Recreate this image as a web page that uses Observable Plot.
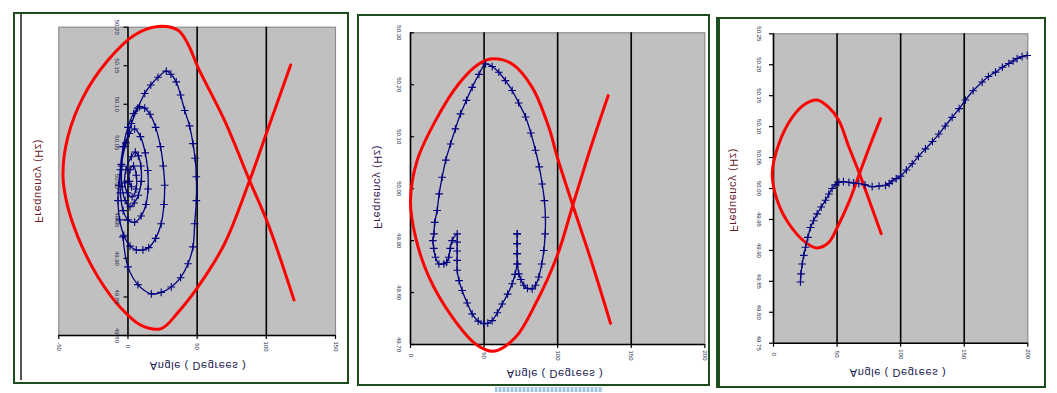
<!DOCTYPE html>
<html><head><meta charset="utf-8">
<script src="https://cdn.jsdelivr.net/npm/d3@7"></script>
<script src="https://cdn.jsdelivr.net/npm/@observablehq/plot@0.6"></script>
<style>
html,body{margin:0;padding:0;background:#fff}
body{width:1057px;height:393px;position:relative;overflow:hidden;font-family:"Liberation Sans",Arial,sans-serif}
.panel{position:absolute;border:2px solid #1d4d1d;box-sizing:border-box}
.lab{position:absolute;font-size:11px;white-space:nowrap;letter-spacing:0.6px;line-height:1}
</style></head><body>
<div class="panel" style="left:13px;top:12px;width:336px;height:372px"></div>
<div style="position:absolute;left:20px;top:14px;width:1.5px;height:366px;background:#555"></div>
<div class="panel" style="left:357px;top:14px;width:353px;height:372px"></div>
<div style="position:absolute;left:495px;top:387px;width:108px;height:5px;background:repeating-linear-gradient(90deg,#9cc3e0 0 2px,#dbe9f5 2px 4px)"></div>
<div class="panel" style="left:716px;top:17px;width:330px;height:371px;border-left-width:4px"></div>
<script>
// ---------- DATA ----------
const xLabel = "Angle ( Degrees )";
const yLabel = "Frequency (Hz)";

// Panel 1
const p1XTicks = [-50, 0, 50, 100, 150];
const p1YTicks = [49.80, 49.85, 49.90, 49.95, 50.00, 50.05, 50.10, 50.15, 50.20];
const p1Red = [[117.6,50.151],[100,50.062],[87.9,50.001],[69.8,49.919],[50.6,49.863],[36.2,49.830],[24.1,49.809],[9.6,49.813],[-4.8,49.835],[-21.7,49.876],[-36.2,49.928],[-44.6,49.975],[-47.0,50.010],[-43.4,50.058],[-32.5,50.109],[-14.5,50.157],[4.8,50.190],[21.7,50.201],[36.2,50.196],[43.4,50.178],[50.6,50.148],[69.8,50.079],[87.9,50.001],[101.2,49.945],[120,49.846]];
const p1Blue = [[-3.6,49.928],[0,49.889],[7.2,49.866],[16.9,49.854],[24,49.856],[31.3,49.863],[38,49.875],[43.4,49.893],[47,49.915],[48.2,49.945],[49.4,49.975],[49.4,50.006],[48.5,50.03],[47.0,50.049],[44.5,50.072],[41.0,50.092],[38,50.112],[34.9,50.129],[31,50.139],[27.7,50.143],[21.7,50.135],[16.5,50.125],[12.1,50.114],[7,50.095],[2.5,50.075],[-1.5,50.05],[-4.8,50.022],[-6.8,49.995],[-7.2,49.975],[-6.0,49.95],[-3,49.93],[1.5,49.916],[6,49.911],[10.8,49.911],[15,49.914],[20,49.926],[24,49.945],[26,49.97],[26.5,49.995],[25.5,50.02],[23.5,50.045],[20,50.07],[16,50.087],[12.1,50.095],[8.4,50.097],[4,50.088],[0,50.07],[-3.5,50.045],[-5.5,50.015],[-5.5,49.985],[-3.5,49.962],[0,49.95],[4.8,49.947],[9.5,49.955],[13,49.97],[14.5,49.99],[14.3,50.014],[12.5,50.037],[9,50.058],[4.8,50.068],[1,50.062],[-2.5,50.045],[-4.5,50.02],[-4.3,49.993],[-2,49.975],[1.5,49.967],[4.5,49.972],[7.5,49.982],[9.6,50.0],[9.3,50.02],[7.5,50.033],[5.3,50.038],[2.5,50.032],[-1.5,50.015],[-2.4,49.998],[-0.5,49.985],[3,49.98],[5.8,49.99],[6,50.008],[4,50.02],[1.5,50.015],[1,50.0],[2.5,49.993]];

// Panel 2
const p2XTicks = [0, 50, 100, 150, 200];
const p2YTicks = [49.7, 49.8, 49.9, 50.0, 50.1, 50.2, 50.3];
const p2Red = [[134.3,50.179],[122,50.075],[110.3,49.968],[99.7,49.871],[84.9,49.778],[71.4,49.714],[56.6,49.687],[44.2,49.701],[28.3,49.753],[12.5,49.830],[3.4,49.907],[0,49.977],[4.5,50.054],[17.0,50.131],[32.8,50.202],[46.4,50.240],[55.5,50.250],[69.1,50.240],[82.7,50.195],[94.0,50.118],[99.7,50.061],[110.3,49.968],[123.5,49.855],[135.9,49.741]];
const p2Blue = [[72.5,49.913],[72.5,49.894],[72.5,49.875],[72.4,49.855],[71,49.835],[69.1,49.817],[66,49.797],[62.3,49.778],[59,49.761],[55.5,49.746],[52.5,49.741],[49.8,49.740],[46,49.745],[41.9,49.759],[38.5,49.78],[35.1,49.804],[33,49.823],[31.7,49.843],[31.7,49.862],[31.7,49.880],[31.7,49.897],[31.7,49.913],[28.3,49.900],[27,49.885],[26.0,49.868],[24.5,49.858],[22.7,49.855],[19.3,49.855],[17.0,49.868],[15.8,49.885],[15.2,49.900],[15.9,49.913],[16.5,49.935],[18.1,49.958],[19.5,49.99],[21.5,50.022],[24,50.055],[27.2,50.086],[30.5,50.115],[34.0,50.144],[38,50.17],[41.9,50.195],[46.5,50.22],[51.0,50.240],[55.5,50.235],[60.0,50.224],[64.5,50.208],[69.1,50.189],[73.5,50.165],[78.2,50.138],[81.8,50.107],[84.9,50.074],[87.5,50.042],[89.5,50.009],[91,49.977],[91.7,49.945],[91.5,49.913],[90.6,49.881],[89.2,49.855],[87.2,49.830],[85,49.814],[82.7,49.807],[79.5,49.808],[77.0,49.814],[75,49.825],[73.6,49.836],[72.8,49.855],[72.5,49.875],[72.5,49.894],[72.5,49.913]];

// Panel 3
const p3XTicks = [0, 50, 100, 150, 200];
const p3YTicks = [49.75, 49.80, 49.85, 49.90, 49.95, 50.00, 50.05, 50.10, 50.15, 50.20, 50.25];
const p3Red = [[84.2,50.113],[76.3,50.072],[67.6,50.024],[59.3,49.978],[50.1,49.937],[43.5,49.913],[34.3,49.904],[25.2,49.913],[12.1,49.943],[2.9,49.981],[-1.0,50.024],[4.2,50.072],[14.7,50.115],[25.2,50.137],[34.3,50.143],[43.5,50.131],[51.4,50.110],[59.3,50.067],[67.6,50.024],[76.3,49.975],[84.7,49.927]];
const p3Blue = [[21.2,49.849],[21.6,49.862],[22.6,49.878],[23.8,49.892],[25.2,49.905],[27,49.921],[29.1,49.937],[31.5,49.948],[34.3,49.959],[37.5,49.970],[40.9,49.981],[43.5,49.991],[46.1,50.000],[48.5,50.006],[51.4,50.010],[55,50.011],[59.3,50.010],[63,50.009],[67.1,50.008],[72,50.006],[77.6,50.003],[83,50.004],[88.1,50.005],[91,50.008],[93.3,50.012],[96.5,50.016],[99.9,50.020],[104.5,50.030],[109.1,50.040],[114,50.052],[119.5,50.064],[125,50.076],[130.0,50.088],[135,50.101],[140.5,50.115],[146,50.129],[151.0,50.143],[157,50.158],[164.1,50.172],[169,50.181],[174.6,50.188],[180,50.196],[185.1,50.202],[188.5,50.206],[191.6,50.210],[195.5,50.213],[199.5,50.215]];

// ---------- DRAWING ----------
function panel(cfg) {
  const {xTicks, yTicks, red, blue, axisX, left, top, width, height, m, tickSide, labDx, grid, fmt} = cfg;
  const xDom = [xTicks[0], xTicks[xTicks.length - 1]];
  const yDom = [yTicks[0], yTicks[yTicks.length - 1]];
  const kx = (xDom[1] - xDom[0]) / (width - m[3] - m[1]);
  const ky = (yDom[1] - yDom[0]) / (height - m[0] - m[2]);
  const svg = Plot.plot({
    width, height,
    marginTop: m[0], marginRight: m[1], marginBottom: m[2], marginLeft: m[3],
    x: {domain: xDom, axis: null},
    y: {domain: yDom, axis: null},
    style: {background: "transparent", overflow: "visible", fontFamily: "Liberation Sans, Arial, sans-serif"},
    marks: [
      Plot.frame({fill: "#c0c0c0", stroke: "#8c8c8c", strokeWidth: 1.2}),
      Plot.ruleX(grid, {stroke: "#000", strokeWidth: 1.6}),
      Plot.ruleX([axisX], {stroke: "#000", strokeWidth: 1.6}),
      Plot.ruleY([yDom[0]], {stroke: "#000", strokeWidth: 1.6}),
      Plot.ruleY(yTicks, {y: d => d, x1: axisX, x2: axisX + tickSide * 4 * kx, stroke: "#000", strokeWidth: 1.2}),
      Plot.ruleX(xTicks, {x: d => d, y1: yDom[0], y2: yDom[0] - 4 * ky, stroke: "#000", strokeWidth: 1.2}),
      Plot.line(red, {x: d => d[0], y: d => d[1], stroke: "#ff0000", strokeWidth: 3, curve: "catmull-rom"}),
      Plot.line(blue, {x: d => d[0], y: d => d[1], stroke: "#000080", strokeWidth: 1.3, curve: "catmull-rom"}),
      Plot.dot(blue, {x: d => d[0], y: d => d[1], symbol: "plus", r: 2.6, stroke: "#000080", strokeWidth: 1.1}),
      Plot.text(xTicks, {x: d => d, y: yDom[0], dy: 11, rotate: 90, text: d => String(d), fontSize: 6, fill: "#1c2a4a"}),
      Plot.text(yTicks, {x: axisX, y: d => d, dx: labDx, rotate: 90, text: d => d.toFixed(fmt), fontSize: 6, fill: "#1c2a4a"})
    ]
  });
  svg.style.position = "absolute";
  svg.style.left = left + "px";
  svg.style.top = top + "px";
  svg.style.maxWidth = "none";
  document.body.appendChild(svg);
}

panel({xTicks: p1XTicks, yTicks: p1YTicks, red: p1Red, blue: p1Blue, axisX: 0, grid: [50, 100],
  left: 22, top: 15, width: 325, height: 366, m: [11.7, 12, 46, 36.3], tickSide: -1, labDx: -11, fmt: 2});
panel({xTicks: p2XTicks, yTicks: p2YTicks, red: p2Red, blue: p2Blue, axisX: 0, grid: [50, 100, 150],
  left: 360, top: 17, width: 347, height: 366, m: [15.3, 2.7, 39, 50], tickSide: 1, labDx: -12, fmt: 2});
panel({xTicks: p3XTicks, yTicks: p3YTicks, red: p3Red, blue: p3Blue, axisX: 0, grid: [50, 100, 150],
  left: 721, top: 20, width: 322, height: 365, m: [13.3, 15.7, 42.3, 52], tickSide: -1, labDx: -15, fmt: 2});

// axis titles (drawn mirrored like the reference)
function label(text, cx, cy, rot, color) {
  const d = document.createElement("div");
  d.className = "lab";
  d.textContent = text;
  d.style.left = cx + "px";
  d.style.top = cy + "px";
  d.style.color = color;
  d.style.transform = "translate(-50%,-50%)" + (rot ? " rotate(-90deg)" : "") + " scaleY(-1)";
  document.body.appendChild(d);
}
label(xLabel, 198, 365, false, "#1a1a50");
label(xLabel, 555, 373, false, "#1a1a50");
label(xLabel, 898, 372, false, "#1a1a50");
label(yLabel, 38, 181, true, "#6a1a2a");
label(yLabel, 377, 187, true, "#3a2050");
label(yLabel, 733, 190, true, "#6a1a2a");
</script>
</body></html>
